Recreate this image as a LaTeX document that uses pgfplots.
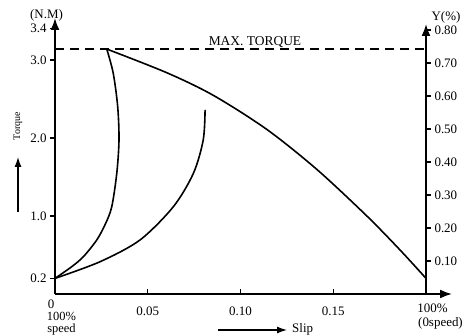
\documentclass[border=0pt]{standalone}
\usepackage{pgfplots}
\pgfplotsset{compat=1.18}
\usepackage{fontspec}
\setmainfont{Liberation Serif}
\usetikzlibrary{arrows.meta}

\begin{document}
\begin{tikzpicture}[font=\fontsize{13}{15}\selectfont]
\useasboundingbox (-55bp,-42bp) rectangle (412bp,294bp);
\begin{axis}[
  scale only axis, width=397bp, height=276bp,
  xmin=0, xmax=0.214, ymin=0, ymax=3.538,
  axis x line=bottom, axis y line=left,
  axis line style={line width=1.8bp},
  x axis line style={-{Latex[length=12bp,width=9bp]}},
  y axis line style={-{Latex[length=12bp,width=9bp]}},
  xtick={0.05,0.1,0.15}, xticklabels={0.05,0.10,0.15},
  ytick={0.2,1,2,3,3.4}, yticklabels={0.2,1.0,2.0,3.0,3.4},
  tick align=outside, major tick length=5bp,
  tick style={line width=1.3bp, black},
  xtick style={yshift=5bp},
  tick label style={font=\fontsize{13}{15}\selectfont},
  xticklabel style={yshift=-4bp},
  clip=false,
]
\addplot[black, line width=1.5bp, dash pattern=on 9bp off 6bp] coordinates {(0,3.14) (0.2,3.14)};
\addplot[black, line width=1.6bp, smooth] coordinates {
(0,0.2) (0.0090,0.35) (0.0153,0.478) (0.0225,0.692) (0.0272,0.90) (0.0306,1.119) (0.0333,1.547) (0.0345,1.974) (0.0338,2.40) (0.0314,2.829) (0.0279,3.14)};
\addplot[black, line width=1.6bp, smooth] coordinates {
(0,0.2) (0.0243,0.414) (0.0458,0.692) (0.0638,1.119) (0.0746,1.547) (0.0799,1.974) (0.0809,2.359)};
\addplot[black, line width=1.6bp, smooth] coordinates {
(0.0279,3.14) (0.0602,2.837) (0.0853,2.547) (0.1141,2.111) (0.1411,1.598) (0.1681,1.0) (0.186,0.564) (0.2,0.2)};
\node[anchor=south, inner sep=1.5bp, font=\fontsize{13.5}{15}\selectfont] at (axis cs:0.1078,3.14) {MAX. TORQUE};
\end{axis}
\begin{axis}[
  scale only axis, width=371bp, height=270bp,
  xmin=0, xmax=0.2, ymin=0, ymax=0.818,
  axis x line=none, axis y line=right,
  y axis line style={line width=1.8bp, -{Latex[length=12bp,width=9bp]}},
  ytick={0.1,0.2,0.3,0.4,0.5,0.6,0.7,0.8},
  yticklabels={0.10,0.20,0.30,0.40,0.50,0.60,0.70,0.80},
  tick align=outside, major tick length=5bp,
  tick style={line width=1.3bp, black},
  tick label style={font=\fontsize{13}{15}\selectfont},
]
\end{axis}
\node at (-8.5bp,279bp) {(N.M)};
\node at (391bp,277bp) {Υ(\%)};
\node[inner sep=0pt] at (-4bp,-10bp) {0};
\node[inner sep=0pt, font=\fontsize{12.5}{14}\selectfont] at (6.5bp,-22.5bp) {100\%};
\node[inner sep=0pt, font=\fontsize{12.5}{14}\selectfont] at (6.5bp,-35.5bp) {speed};
\node[inner sep=0pt] at (377.5bp,-14bp) {100\%};
\node[inner sep=0pt] at (385.5bp,-29bp) {(0speed)};
\draw[line width=1.3bp, -{Latex[length=10bp,width=7bp]}] (163bp,-36bp) -- (232bp,-36bp);
\node[anchor=west, inner sep=1bp] at (236bp,-35bp) {Slip};
\draw[line width=1.3bp, -{Latex[length=10bp,width=7bp]}] (-37bp,82bp) -- (-37bp,137bp);
\node[rotate=90, font=\fontsize{10}{12}\selectfont] at (-37bp,168bp) {Torque};
\end{tikzpicture}
\end{document}
